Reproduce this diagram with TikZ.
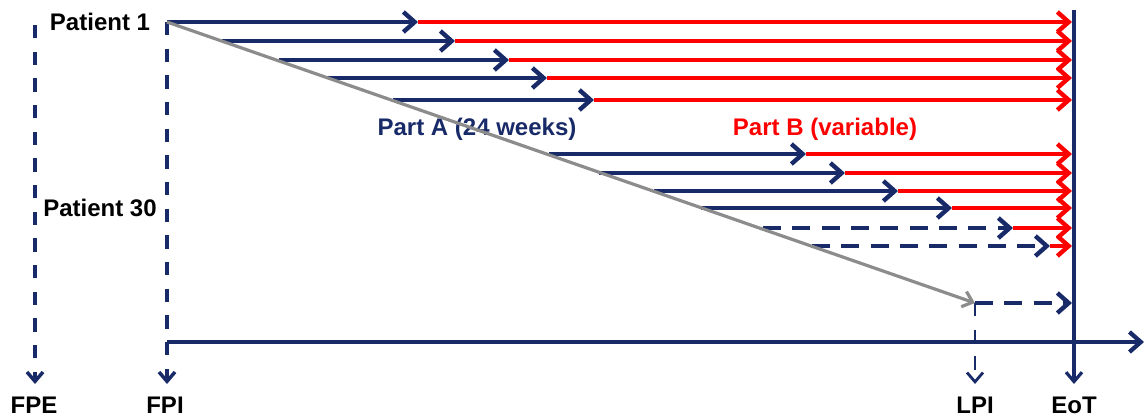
\documentclass[tikz,border=0pt]{standalone}
\usepackage{fontspec}
\setmainfont{Liberation Sans}
\usetikzlibrary{arrows.meta}
\definecolor{navy}{RGB}{24,42,104}
\definecolor{pred}{RGB}{255,0,0}
\definecolor{pgray}{RGB}{140,140,140}
\begin{document}
\begin{tikzpicture}[x=0.75pt,y=-0.75pt,
  lbl/.style={font=\fontsize{18}{20}\selectfont\bfseries,inner sep=0pt},
  barb/.style={-{Straight Barb[length=8.5pt,width=15pt]}},
  smallbarb/.style={-{Straight Barb[length=7pt,width=12pt]}},
  bluearr/.style={navy,line width=3.3pt,barb},
  redarr/.style={pred,line width=3.3pt,barb},
  hdash/.style={dash pattern=on 13.5pt off 8.5pt},
  vdash/.style={dash pattern=on 10pt off 10pt},
  droparr/.style={navy,line width=2.6pt,smallbarb}]
\useasboundingbox (0,0) rectangle (1145,419);

% labels
\node[lbl] (p1) at (100,22) {Patient 1};
\node[lbl] (p30) at (100,208) {Patient 30};
\node[lbl,text=navy] (pa) at (477,129) {Part A (24 weeks)};
\node[lbl,text=pred] (pb) at (825,129) {Part B (variable)};
\node[lbl] (fpe) at (34,405) {FPE};
\node[lbl] (fpi) at (165,405) {FPI};
\node[lbl] (lpi) at (975,405) {LPI};
\node[lbl] (eot) at (1074,405) {EoT};

% key coordinates
\coordinate (fpetop) at (35,25);
\coordinate (fpebot) at (35,384);
\coordinate (fpitop) at (167,22);
\coordinate (fpibot) at (167,384);
\coordinate (lpitop) at (975,303);
\coordinate (lpibot) at (975,384);
\coordinate (eottop) at (1074,10);
\coordinate (eotbot) at (1074,384);
\coordinate (axs) at (167,342);
\coordinate (axe) at (1144,342);

% vertical dashed markers
\draw[droparr,vdash] (fpetop) -- (fpebot);
\draw[droparr,vdash] (fpitop) -- (fpibot);
\draw[droparr,vdash,line width=2.1pt] (lpitop) -- (lpibot);
\draw[droparr,line width=2.4pt] (eottop) -- (eotbot);

% time axis
\draw[navy,line width=3.2pt,barb] (axs) -- (axe);

% solid rows: y, start, junction
\foreach \i/\y/\s/\j in {1/22/167/418, 2/41/222/455, 3/60/279/509, 4/78/328/547,
    5/100/393/594, 6/154/549/806, 7/173/599/845, 8/191/654/898, 9/208/701/952}{
  \coordinate (s\i) at (\s,\y);
  \coordinate (j\i) at (\j,\y);
  \coordinate (e\i) at (1072,\y);
  \draw[redarr] (j\i) -- (e\i);
  \draw[bluearr] (s\i) -- (j\i);
}
% dashed rows
\foreach \i/\y/\s/\j in {10/228/763/1013, 11/246/812/1050}{
  \coordinate (s\i) at (\s,\y);
  \coordinate (j\i) at (\j,\y);
  \coordinate (e\i) at (1072,\y);
  \draw[redarr] (j\i) -- (e\i);
  \draw[bluearr,hdash] (s\i) -- (j\i);
}
\coordinate (e12) at (1072,303);
\draw[bluearr,hdash] (lpitop) -- (e12);

% recruitment diagonal
\draw[pgray,line width=2.4pt,-{Straight Barb[length=7pt,width=12pt]}] (fpitop) -- (lpitop);
\end{tikzpicture}
\end{document}
